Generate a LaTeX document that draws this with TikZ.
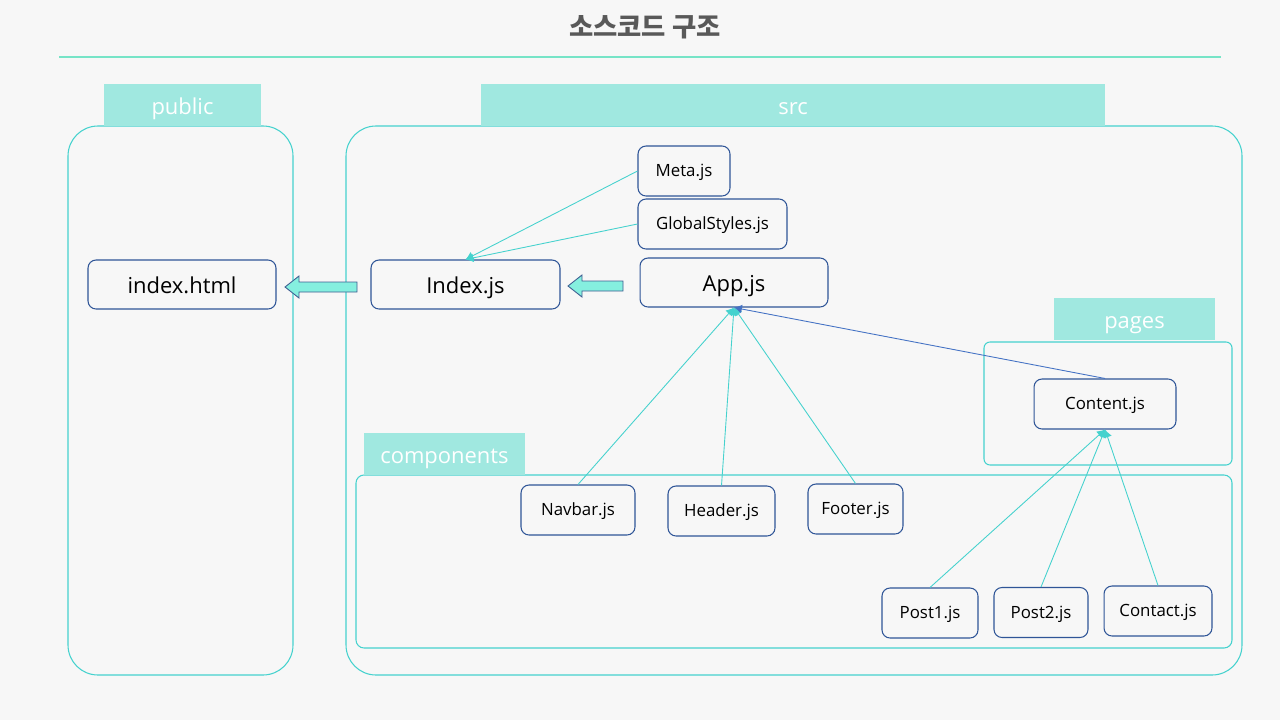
\documentclass[tikz,border=0pt]{standalone}
\usepackage{fontspec}
\setmainfont{Open Sans}
\newfontfamily\krfont{Noto Sans CJK KR}
\usepackage{xcolor}
\usepackage{tikz}
\usetikzlibrary{positioning}
\usetikzlibrary{arrows.meta}
\definecolor{bgcol}{HTML}{F7F7F7}
\definecolor{teal}{HTML}{45D2CE}
\definecolor{tabcol}{HTML}{A0E8E0}
\definecolor{navy}{HTML}{2F5597}
\definecolor{linkblue}{HTML}{4472C4}
\definecolor{aqua}{HTML}{85EFDF}
\definecolor{titlegray}{HTML}{595959}
\tikzstyle{file} = [rectangle, draw=navy, line width=0.6pt, rounded corners=0.16cm, align=center, font=\fontsize{9.6}{11}\selectfont, minimum height=1cm, inner sep=0pt, text height=6.5pt, text depth=0pt]
\tikzstyle{bigfile} = [file, font=\fontsize{12.5}{14}\selectfont, minimum height=0.98cm, text height=10.5pt]
\tikzstyle{tab} = [rectangle, fill=tabcol, text=white, font=\fontsize{12.5}{14}\selectfont, minimum height=0.84cm, minimum width=3.22cm, inner sep=0pt, text height=11pt, text depth=0pt]
\tikzstyle{folder} = [draw=teal, line width=0.6pt]
\tikzstyle{link} = [draw=teal, line width=0.5pt, -{Latex[length=4.5pt,width=5pt]}]
\tikzstyle{fatarrow} = [draw=navy!80!gray, fill=aqua, line width=0.5pt]

\begin{document}
\begin{tikzpicture}[x=0.02cm, y=-0.02cm]
\fill[bgcol] (0,0) rectangle (1280,720);

%% title
\node[text=titlegray, font=\krfont\bfseries\fontsize{15}{17}\selectfont] (title) at (645,27) {소스코드 구조};
\draw[teal!85!green!70!white, line width=0.9pt] (59,57) -- (1221,57);

%% public
\draw[folder, rounded corners=0.6cm] (68,126) rectangle (293,675);
\node[tab, minimum width=3.14cm] (public) at (182.5,105) {public};
\node[bigfile, minimum width=3.76cm] (indexhtml) at (182,284.5) {index.html};

%% src
\draw[folder, rounded corners=0.6cm] (346,126) rectangle (1242,675);
\node[tab, minimum width=12.48cm] (src) at (793,105) {src};
\node[bigfile, minimum width=3.78cm] (indexjs) at (465.5,284.5) {Index.js};
\node[bigfile, minimum width=3.76cm] (app) at (734,282.5) {App.js};
\node[file, minimum width=1.84cm] (meta) at (684,171) {Meta.js};
\node[file, minimum width=2.98cm] (global) at (712.5,224) {GlobalStyles.js};

\path[link] (meta.west) to (indexjs.north);
\path[link] (global.west) to (indexjs.north);

%% fat arrows
\draw[fatarrow] (285,287) -- ++(14,-11) -- ++(0,6) -- ++(58,0) -- ++(0,10) -- ++(-58,0) -- ++(0,6) -- cycle;
\draw[fatarrow] (568,286) -- ++(14,-11) -- ++(0,6) -- ++(41,0) -- ++(0,10) -- ++(-41,0) -- ++(0,6) -- cycle;

%% pages
\draw[folder, rounded corners=0.12cm] (984,342) rectangle (1232,465);
\node[tab] (pages) at (1134.5,319) {pages};
\node[file, minimum width=2.84cm] (content) at (1105,404) {Content.js};

%% components
\draw[folder, rounded corners=0.16cm] (356,475) rectangle (1232,648);
\node[tab] (components) at (444.5,454) {components};
\node[file, minimum width=2.28cm] (navbar) at (578,510) {Navbar.js};
\node[file, minimum width=2.14cm] (header) at (721.5,511) {Header.js};
\node[file, minimum width=1.9cm] (footer) at (855.5,509) {Footer.js};
\node[file, minimum width=1.92cm] (post1) at (930,613) {Post1.js};
\node[file, minimum width=1.88cm] (post2) at (1041,612.5) {Post2.js};
\node[file, minimum width=2.16cm] (contact) at (1158,611) {Contact.js};

\path[link] (navbar.north) to (app.south);
\path[link] (header.north) to (app.south);
\path[link] (footer.north) to (app.south);
\path[link, draw=linkblue] (content.north) to (app.south);

\path[link] (post1.north) to (content.south);
\path[link] (post2.north) to (content.south);
\path[link] (contact.north) to (content.south);

\end{tikzpicture}
\end{document}
